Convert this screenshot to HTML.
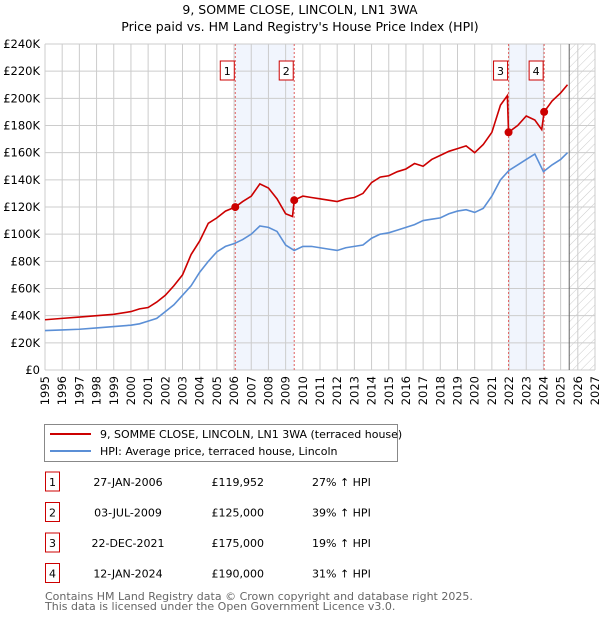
<!DOCTYPE html>
<html><head><meta charset="utf-8"><style>
body{margin:0;background:#fff;}
svg{display:block;font-family:"DejaVu Sans","Liberation Sans",sans-serif;}
</style></head><body>
<svg id="c" width="600" height="620" viewBox="0 0 600 620">
<text x="300" y="14" text-anchor="middle" font-size="12.5">9, SOMME CLOSE, LINCOLN, LN1 3WA</text>
<text x="300" y="31" text-anchor="middle" font-size="12.5">Price paid vs. HM Land Registry's House Price Index (HPI)</text>
<defs><pattern id="h" width="6" height="6" patternUnits="userSpaceOnUse" patternTransform="rotate(45)"><line x1="0" y1="0" x2="0" y2="6" stroke="#ccc" stroke-width="1"/></pattern></defs>
<g id="plot"></g>
<rect x="44.5" y="424.5" width="353" height="37" fill="#fff" stroke="#888"/>
<line x1="50" y1="434" x2="91" y2="434" stroke="#cc0000" stroke-width="2"/>
<text x="100" y="438" font-size="11">9, SOMME CLOSE, LINCOLN, LN1 3WA (terraced house)</text>
<line x1="50" y1="451" x2="91" y2="451" stroke="#5b8fd6" stroke-width="2"/>
<text x="100" y="455" font-size="11">HPI: Average price, terraced house, Lincoln</text>
<g id="tbl" font-size="11"></g>
<text x="45" y="600" font-size="11" fill="#666">Contains HM Land Registry data © Crown copyright and database right 2025.</text>
<text x="45" y="610" font-size="11" fill="#666">This data is licensed under the Open Government Licence v3.0.</text>
</svg>
<script>
const yTicks=[0,20,40,60,80,100,120,140,160,180,200,220,240];
const xYears=[1995,1996,1997,1998,1999,2000,2001,2002,2003,2004,2005,2006,2007,2008,2009,2010,2011,2012,2013,2014,2015,2016,2017,2018,2019,2020,2021,2022,2023,2024,2025,2026,2027];
const hpiT=[1995,1996,1997,1998,1999,2000,2000.5,2001,2001.5,2002,2002.5,2003,2003.5,2004,2004.5,2005,2005.5,2006,2006.5,2007,2007.5,2008,2008.5,2009,2009.5,2010,2010.5,2011,2011.5,2012,2012.5,2013,2013.5,2014,2014.5,2015,2015.5,2016,2016.5,2017,2017.5,2018,2018.5,2019,2019.5,2020,2020.5,2021,2021.5,2022,2022.5,2023,2023.5,2024,2024.5,2025,2025.4];
const hpiV=[29,29.5,30,31,32,33,34,36,38,43,48,55,62,72,80,87,91,93,96,100,106,105,102,92,88,91,91,90,89,88,90,91,92,97,100,101,103,105,107,110,111,112,115,117,118,116,119,128,140,147,151,155,159,146,151,155,160];
const redT=[1995,1996,1997,1998,1999,2000,2000.5,2001,2001.5,2002,2002.5,2003,2003.5,2004,2004.5,2005,2005.5,2006.07,2006.5,2007,2007.5,2008,2008.5,2009,2009.4,2009.5,2010,2010.5,2011,2011.5,2012,2012.5,2013,2013.5,2014,2014.5,2015,2015.5,2016,2016.5,2017,2017.5,2018,2018.5,2019,2019.5,2020,2020.5,2021,2021.5,2021.9,2021.97,2022.5,2023,2023.5,2023.9,2024.04,2024.5,2025,2025.4];
const redV=[37,38,39,40,41,43,45,46,50,55,62,70,85,95,108,112,117,120,124,128,137,134,126,115,113,125,128,127,126,125,124,126,127,130,138,142,143,146,148,152,150,155,158,161,163,165,160,166,175,195,202,175,180,187,184,177,190,198,204,210];
const sales=[["1","27-JAN-2006","£119,952","27% ↑ HPI",2006.07,119.952],["2","03-JUL-2009","£125,000","39% ↑ HPI",2009.5,125],["3","22-DEC-2021","£175,000","19% ↑ HPI",2021.97,175],["4","12-JAN-2024","£190,000","31% ↑ HPI",2024.04,190]];
const X0=45,X1=595,Y0=370,Y1=44;
const sx=t=>X0+(t-1995)*(X1-X0)/32, sy=v=>Y0-v*(Y0-Y1)/240;
const NS="http://www.w3.org/2000/svg";
const mk=(p,tag,at)=>{const e=document.createElementNS(NS,tag);for(const k in at)e.setAttribute(k,at[k]);p.appendChild(e);return e;};
const g=document.getElementById('plot');
// shaded bands
[[0,1],[2,3]].forEach(([a,b],i)=>{const r=mk(g,'rect',{x:sx(sales[a][4]),y:Y1,width:sx(sales[b][4])-sx(sales[a][4]),height:Y0-Y1,fill:'#eef3fc',opacity:0.8});

});
const hx=sx(2025.5);
const hr=mk(g,'rect',{x:hx,y:Y1,width:X1-hx,height:Y0-Y1,fill:'url(#h)'});


xYears.forEach(y=>{const l=mk(g,'line',{x1:sx(y),x2:sx(y),y1:Y1,y2:Y0,stroke:'#ccc'});


const t=mk(g,'text',{x:0,y:0,'font-size':11.5,'text-anchor':'end',transform:`translate(${sx(y)+4},${Y0+6}) rotate(-90)`});t.textContent=y;

});
yTicks.forEach(v=>{const l=mk(g,'line',{x1:X0,x2:X1,y1:sy(v),y2:sy(v),stroke:'#ccc'});


const t=mk(g,'text',{x:40,y:sy(v)+4,'font-size':11.5,'text-anchor':'end'});t.textContent=v?'£'+v+'K':'£0';

});
const nl=mk(g,'line',{x1:hx,x2:hx,y1:Y1,y2:Y0,stroke:'#666'});


sales.forEach(s=>{const l=mk(g,'line',{x1:sx(s[4]),x2:sx(s[4]),y1:Y1,y2:Y0,stroke:'#e06060','stroke-dasharray':'2,2'});


const b=mk(g,'rect',{x:sx(s[4])-15,y:61,width:14,height:19,fill:'#fff',stroke:'#cc0000'});


const t=mk(g,'text',{x:sx(s[4])-8,y:75,'font-size':11,'text-anchor':'middle'});t.textContent=s[0];

});
const path=(T,V,c,n)=>{const p=mk(g,'polyline',{points:T.map((t,i)=>sx(t)+','+sy(V[i])).join(' '),fill:'none',stroke:c,'stroke-width':1.6});

};
path(hpiT,hpiV,'#5b8fd6','hpi-line');
path(redT,redV,'#cc0000','property-line');
sales.forEach(s=>{const c=mk(g,'circle',{cx:sx(s[4]),cy:sy(s[5]),r:4,fill:'#cc0000'});

});
const tb=document.getElementById('tbl');
sales.forEach((s,i)=>{const y=486+i*30.5;
const b=mk(tb,'rect',{x:45.5,y:y-14,width:14,height:19,fill:'#fff',stroke:'#cc0000'});


[[52.5,'middle',s[0]],[128,'middle',s[1]],[264,'end',s[2]],[312,'start',s[3]]].forEach(([x,a,txt])=>{const t=mk(tb,'text',{x:x,y:y,'text-anchor':a});t.textContent=txt;

});});
</script>
</body></html>
